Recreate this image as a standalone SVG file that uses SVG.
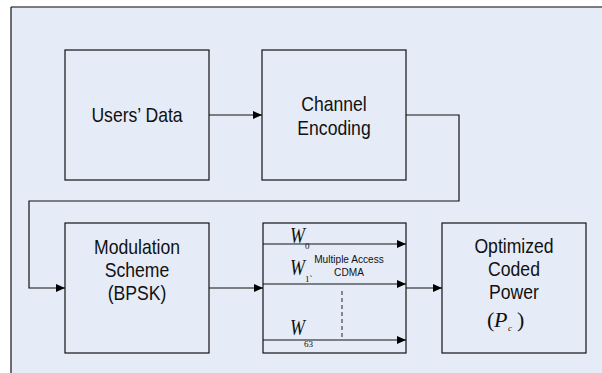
<svg xmlns="http://www.w3.org/2000/svg" width="602" height="373" viewBox="0 0 602 373">
<style>
.box{fill:#e6ecf7;stroke:#111;stroke-width:1.2}
.ln{fill:none;stroke:#111;stroke-width:1.2}
.t{font-family:"Liberation Sans",Arial,sans-serif;font-size:20px;fill:#111;text-anchor:middle}
.s{font-family:"Liberation Sans",Arial,sans-serif;font-size:11.5px;fill:#111;text-anchor:middle}
.w{font-family:"Liberation Serif","Times New Roman",serif;font-style:italic;font-size:23px;fill:#111}
.sub{font-family:"Liberation Serif","Times New Roman",serif;font-size:9px;fill:#111}
.m{font-family:"Liberation Serif","Times New Roman",serif;font-size:22px;fill:#111}
</style>
<defs>
<marker id="ah" markerUnits="userSpaceOnUse" markerWidth="9" markerHeight="8" refX="9" refY="4" orient="auto">
<path d="M0,0 L9,4 L0,8 z" fill="#000"/>
</marker>
</defs>
<rect x="0" y="0" width="602" height="373" fill="#fff"/>
<rect x="11" y="7" width="591" height="366" fill="#e6ecf7"/>
<line x1="11" y1="7" x2="602" y2="7" stroke="#555" stroke-width="1.5"/>
<line x1="11" y1="7" x2="11" y2="373" stroke="#111" stroke-width="1.2"/>

<g id="connectors">
<line class="ln" x1="209" y1="115" x2="262" y2="115" marker-end="url(#ah)"/>
<polyline class="ln" points="406,115 459,115 459,201 29,201 29,288 65,288" marker-end="url(#ah)"/>
<line class="ln" x1="209" y1="288" x2="263" y2="288" marker-end="url(#ah)"/>
<line class="ln" x1="406" y1="288" x2="442" y2="288" marker-end="url(#ah)"/>
</g>

<g id="users-data">
<rect class="box" x="65" y="50" width="144" height="130"/>
<text class="t" transform="translate(137,122) scale(0.88,1)">Users’ Data</text>
</g>

<g id="channel-encoding">
<rect class="box" x="262" y="50" width="144" height="130"/>
<text class="t" transform="translate(334,111) scale(0.88,1)">Channel</text>
<text class="t" transform="translate(334,135) scale(0.88,1)">Encoding</text>
</g>

<g id="modulation">
<rect class="box" x="65" y="223" width="144" height="130"/>
<text class="t" transform="translate(137,254) scale(0.88,1)">Modulation</text>
<text class="t" transform="translate(137,277) scale(0.88,1)">Scheme</text>
<text class="t" transform="translate(137,300) scale(0.88,1)">(BPSK)</text>
</g>

<g id="cdma">
<rect class="box" x="263" y="223" width="143" height="130"/>
<line class="ln" x1="263" y1="244" x2="406" y2="244" stroke="#333" marker-end="url(#ah)"/>
<line class="ln" x1="263" y1="284" x2="406" y2="284" stroke="#333" marker-end="url(#ah)"/>
<line class="ln" x1="263" y1="340" x2="406" y2="340" stroke="#333" marker-end="url(#ah)"/>
<line x1="342" y1="291" x2="342" y2="340" stroke="#444" stroke-width="1.2" stroke-dasharray="4,3"/>
<text class="w" transform="translate(290,243) scale(0.78,1)">W</text>
<text class="sub" x="305" y="249">0</text>
<text class="w" transform="translate(290,275) scale(0.78,1)">W</text>
<text class="sub" x="305" y="282">1`</text>
<text class="w" transform="translate(290,335) scale(0.78,1)">W</text>
<text class="sub" x="304" y="347">63</text>
<text class="s" transform="translate(349,263) scale(0.88,1)">Multiple Access</text>
<text class="s" transform="translate(349,276) scale(0.88,1)">CDMA</text>
</g>

<g id="coded-power">
<rect class="box" x="442" y="223" width="144" height="130"/>
<text class="t" transform="translate(514,253) scale(0.88,1)">Optimized</text>
<text class="t" transform="translate(514,276) scale(0.88,1)">Coded</text>
<text class="t" transform="translate(514,299) scale(0.88,1)">Power</text>
<text class="m" y="327"><tspan x="487">(</tspan><tspan x="494" font-style="italic">P</tspan><tspan x="508" y="331" font-style="italic" font-size="9">c</tspan><tspan x="517" y="327">)</tspan></text>
</g>
</svg>
